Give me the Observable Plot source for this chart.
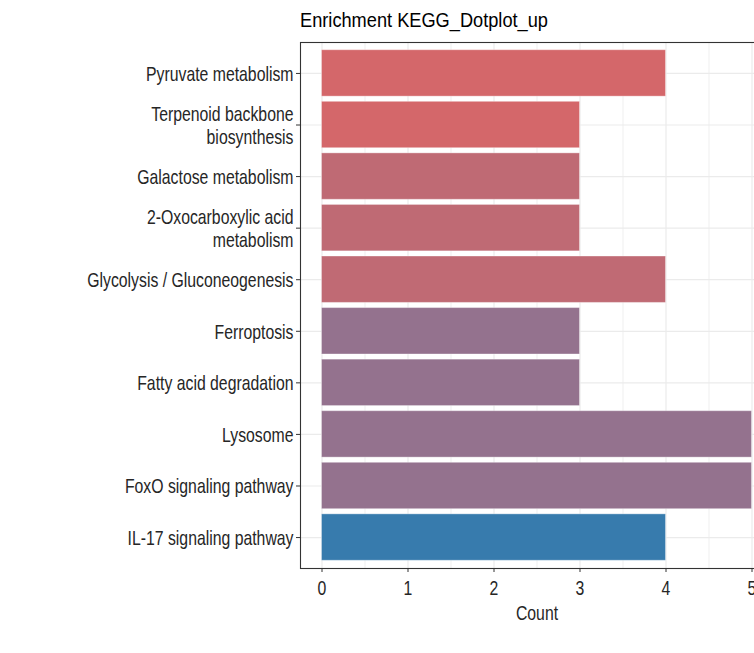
<!DOCTYPE html>
<html><head><meta charset="utf-8">
<script src="https://cdn.jsdelivr.net/npm/d3@7"></script>
<script src="https://cdn.jsdelivr.net/npm/@observablehq/plot@0.6"></script>
<style>
html,body{margin:0;padding:0;background:#fff;overflow:hidden;width:754px;height:653px}
#wrap{position:relative;width:754px;height:653px;overflow:hidden}
#title{position:absolute;z-index:2;left:300px;top:7px;font-family:"Liberation Sans",Arial,sans-serif;font-size:21px;line-height:26px;color:#000;white-space:nowrap;transform:scaleX(0.867);transform-origin:0 0}
#chart svg{position:absolute;left:0;top:0;max-width:none}
</style></head>
<body>
<div id="wrap"><div id="title">Enrichment KEGG_Dotplot_up</div><div id="chart"></div></div>
<script>
const categories = [
  "Pyruvate metabolism",
  "Terpenoid backbone\nbiosynthesis",
  "Galactose metabolism",
  "2-Oxocarboxylic acid\nmetabolism",
  "Glycolysis / Gluconeogenesis",
  "Ferroptosis",
  "Fatty acid degradation",
  "Lysosome",
  "FoxO signaling pathway",
  "IL-17 signaling pathway"
];
const counts = [4, 3, 3, 3, 4, 3, 3, 5, 5, 4];
const barColors = ["#d4676a", "#d4676a", "#bf6a74", "#bf6a74", "#c06a74", "#94728e", "#94728e", "#94728e", "#94728e", "#377bad"];
const xTicks = [0, 1, 2, 3, 4, 5];
const xMinor = [0.5, 1.5, 2.5, 3.5, 4.5];

const data = categories.map((c, i) => ({pathway: c, count: counts[i], color: barColors[i]}));

const chart = Plot.plot({
  width: 774,
  height: 653,
  marginLeft: 300,
  marginRight: 1,
  marginTop: 42,
  marginBottom: 85,
  style: {fontFamily: '"Liberation Sans",Arial,sans-serif', background: "#fff", color: "#262626", maxWidth: "none"},
  x: {domain: [-0.25, 5.25]},
  y: {domain: categories, paddingInner: 0.1, paddingOuter: 0.15, round: false},
  color: {type: "identity"},
  marks: [
    Plot.ruleX(xMinor, {stroke: "#ebebeb", strokeWidth: 0.8}),
    Plot.ruleX(xTicks, {stroke: "#ebebeb", strokeWidth: 1.2}),
    Plot.ruleY(categories, {y: d => d, stroke: "#ebebeb", strokeWidth: 1.2}),
    Plot.barX(data, {x: "count", y: "pathway", fill: "color", stroke: "white", strokeOpacity: 0.35, strokeWidth: 1}),
    Plot.frame({stroke: "#333", strokeWidth: 1.1}),
    Plot.axisX({ticks: xTicks, tickFormat: d3.format("d"), tickSize: 4, tickPadding: 8, fontSize: 20, label: "Count", labelAnchor: "center", labelArrow: "none", labelOffset: 51, stroke: "#333"}),
    Plot.axisY({tickSize: 4, tickPadding: 3, fontSize: 20, lineHeight: 1.15, label: null, stroke: "#333"})
  ]
});
// condense text horizontally to mimic the narrow font of the reference
chart.querySelectorAll("text").forEach(t => {
  const tr = t.getAttribute("transform") || "";
  t.setAttribute("transform", (tr + " scale(0.79,1)").trim());
});
document.getElementById("chart").appendChild(chart);
</script>
</body></html>
